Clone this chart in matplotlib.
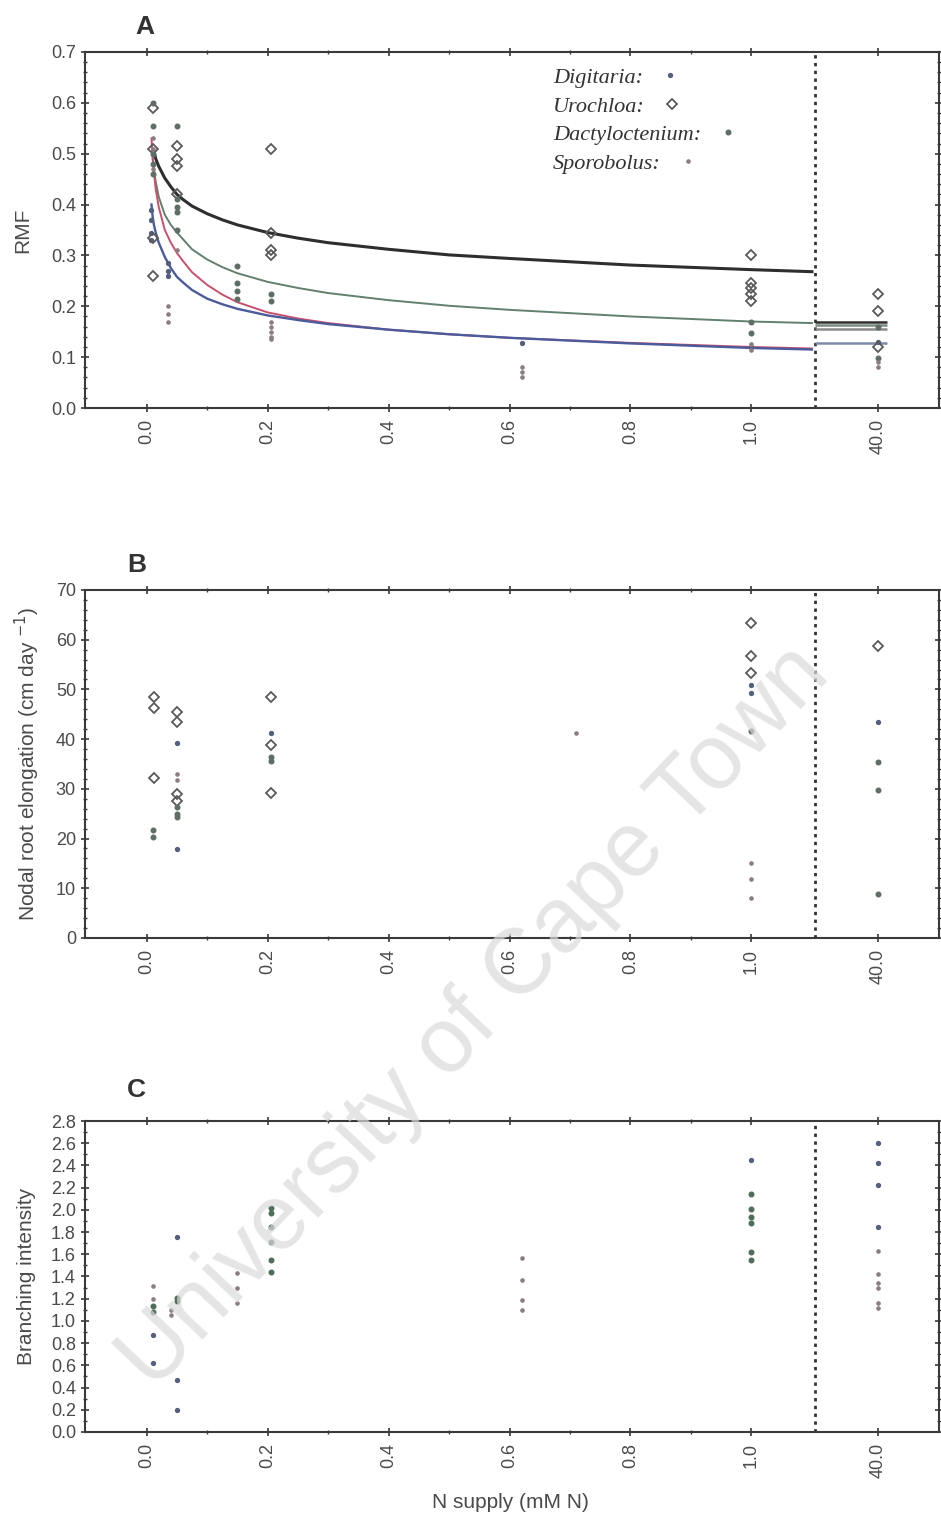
import numpy as np
import matplotlib
matplotlib.use("Agg")
import matplotlib.pyplot as plt
from matplotlib.ticker import FixedLocator, AutoMinorLocator

plt.rcParams['font.family'] = ['Liberation Sans', 'DejaVu Sans']

######################################
# DATA
######################################
# N supply (mM N); the 40 mM group sits after an axis break
xtick_vals = [0.0, 0.2, 0.4, 0.6, 0.8, 1.0, 40.0]
xtick_labels = ["0.0", "0.2", "0.4", "0.6", "0.8", "1.0", "40.0"]
xminor_vals = [0.1, 0.3, 0.5, 0.7, 0.9]
BREAK = 1.105

species = ["Digitaria", "Urochloa", "Dactyloctenium", "Sporobolus"]

# --- panel A: root mass fraction
a_uro_x = [0.01, 0.01, 0.01, 0.01, 0.05, 0.05, 0.05, 0.05, 0.206, 0.206, 0.206, 0.206,
           1.0, 1.0, 1.0, 1.0, 1.0, 40.0, 40.0, 40.0]
a_uro_y = [0.59, 0.51, 0.335, 0.26, 0.515, 0.49, 0.475, 0.42, 0.51, 0.345, 0.31, 0.30,
           0.30, 0.245, 0.235, 0.225, 0.21, 0.225, 0.19, 0.12]
a_dig_x = [0.008, 0.008, 0.008, 0.008, 0.035, 0.035, 0.035, 0.62, 1.0, 40.0]
a_dig_y = [0.39, 0.37, 0.345, 0.33, 0.285, 0.27, 0.26, 0.128, 0.12, 0.13]
a_dac_x = [0.01, 0.01, 0.01, 0.01, 0.01, 0.05, 0.05, 0.05, 0.05, 0.05,
           0.15, 0.15, 0.15, 0.15, 0.206, 0.206, 1.0, 1.0, 40.0, 40.0]
a_dac_y = [0.60, 0.555, 0.50, 0.48, 0.46, 0.555, 0.41, 0.395, 0.385, 0.35,
           0.28, 0.245, 0.23, 0.215, 0.225, 0.21, 0.17, 0.148, 0.16, 0.098]
a_spo_x = [0.01, 0.01, 0.01, 0.035, 0.035, 0.035, 0.05, 0.206, 0.206, 0.206, 0.206, 0.206,
           0.62, 0.62, 0.62, 1.0, 1.0, 40.0, 40.0]
a_spo_y = [0.53, 0.51, 0.47, 0.20, 0.185, 0.17, 0.31, 0.17, 0.16, 0.15, 0.14, 0.135,
           0.08, 0.07, 0.06, 0.114, 0.125, 0.08, 0.09]

# fitted curves
fit_uro_x = [0.012, 0.015, 0.02, 0.03, 0.04, 0.05, 0.06, 0.075, 0.1, 0.125, 0.15, 0.2, 0.25, 0.3,
             0.4, 0.5, 0.6, 0.8, 1.0, 1.1]
fit_uro_y = [0.505, 0.49, 0.475, 0.452, 0.435, 0.42, 0.41, 0.397, 0.382, 0.37, 0.36, 0.345, 0.334,
             0.325, 0.312, 0.301, 0.294, 0.281, 0.272, 0.268]
fit_dac_x = [0.01, 0.012, 0.015, 0.02, 0.03, 0.04, 0.05, 0.06, 0.075, 0.1, 0.125, 0.15, 0.2, 0.25,
             0.3, 0.4, 0.5, 0.6, 0.8, 1.0, 1.1]
fit_dac_y = [0.49, 0.47, 0.445, 0.415, 0.38, 0.36, 0.345, 0.332, 0.312, 0.292, 0.277, 0.265, 0.248,
             0.236, 0.226, 0.212, 0.201, 0.193, 0.18, 0.17, 0.167]
fit_spo_x = [0.008, 0.01, 0.012, 0.015, 0.02, 0.03, 0.04, 0.05, 0.06, 0.075, 0.1, 0.125, 0.15, 0.2,
             0.25, 0.3, 0.4, 0.5, 0.6, 0.8, 1.0, 1.1]
fit_spo_y = [0.53, 0.49, 0.463, 0.43, 0.395, 0.35, 0.325, 0.305, 0.289, 0.267, 0.242, 0.223, 0.208,
             0.188, 0.176, 0.167, 0.154, 0.145, 0.138, 0.128, 0.12, 0.117]
fit_dig_x = [0.008, 0.01, 0.012, 0.015, 0.02, 0.03, 0.04, 0.05, 0.06, 0.075, 0.1, 0.125, 0.15, 0.2,
             0.25, 0.3, 0.4, 0.5, 0.6, 0.8, 1.0, 1.1]
fit_dig_y = [0.40, 0.375, 0.36, 0.345, 0.325, 0.297, 0.275, 0.258, 0.247, 0.232, 0.215, 0.204, 0.195,
             0.182, 0.173, 0.165, 0.154, 0.145, 0.138, 0.127, 0.118, 0.115]
# fitted values at 40 mM (short horizontal segments after the break)
fit40_vals = [0.170, 0.163, 0.155, 0.128]
fit40_colors = ["#2e2e2e", "#7a8a80", "#8a8a8a", "#7d8aa8"]
fit40_span = [BREAK + 0.0003, 45.0]

# --- panel B: nodal root elongation
b_uro_x = [0.012, 0.012, 0.012, 0.05, 0.05, 0.05, 0.05, 0.206, 0.206, 0.206, 1.0, 1.0, 1.0, 40.0]
b_uro_y = [48.5, 46.3, 32.2, 45.4, 43.4, 29.0, 27.6, 48.5, 38.8, 29.2, 63.4, 56.7, 53.3, 58.7]
b_dig_x = [0.05, 0.05, 0.206, 1.0, 1.0, 40.0]
b_dig_y = [39.2, 17.9, 41.2, 50.9, 49.3, 43.5]
b_dac_x = [0.01, 0.01, 0.05, 0.05, 0.05, 0.206, 0.206, 1.0, 40.0, 40.0, 40.0]
b_dac_y = [21.7, 20.3, 26.3, 25.0, 24.3, 36.5, 35.5, 41.6, 35.4, 29.8, 8.9]
b_spo_x = [0.05, 0.05, 0.71, 1.0, 1.0, 1.0]
b_spo_y = [33.0, 31.8, 41.2, 15.1, 11.9, 8.0]

# --- panel C: branching intensity
c_dig_x = [0.01, 0.01, 0.05, 0.05, 0.05, 1.0, 40.0, 40.0, 40.0, 40.0]
c_dig_y = [0.62, 0.87, 1.76, 0.47, 0.20, 2.45, 2.60, 2.42, 2.22, 1.85]
c_dac_x = [0.01, 0.01, 0.05, 0.05, 0.206, 0.206, 0.206, 0.206, 0.206, 0.206,
           1.0, 1.0, 1.0, 1.0, 1.0, 1.0]
c_dac_y = [1.13, 1.08, 1.21, 1.18, 2.02, 1.97, 1.85, 1.71, 1.55, 1.44,
           2.14, 2.01, 1.94, 1.88, 1.62, 1.55]
c_spo_x = [0.01, 0.01, 0.04, 0.04, 0.15, 0.15, 0.15, 0.62, 0.62, 0.62, 0.62,
           40.0, 40.0, 40.0, 40.0, 40.0, 40.0]
c_spo_y = [1.31, 1.20, 1.10, 1.05, 1.43, 1.30, 1.16, 1.57, 1.37, 1.19, 1.10,
           1.63, 1.42, 1.34, 1.30, 1.16, 1.12]

######################################
# STYLE
######################################
COL_AX = "#3a3a3a"
COL_TXT = "#4a4a4a"
sty_dig = dict(marker="o", ms=2.8, ls="none", color="#55607e")
sty_uro = dict(marker="D", ms=5.0, ls="none", mfc="none", mec="#5a5a5a", mew=1.3)
sty_dac = dict(marker="o", ms=3.3, ls="none", color="#5e6e64")
sty_spo = dict(marker="o", ms=2.3, ls="none", color="#8a7c80")

# broken x axis: linear up to BREAK, compressed beyond
K = (1.21 - BREAK) / (40.0 - BREAK)


def fwd(x):
    x = np.asarray(x, dtype=float)
    return np.where(x <= BREAK, x, BREAK + (x - BREAK) * K)


def inv(p):
    p = np.asarray(p, dtype=float)
    return np.where(p <= BREAK, p, BREAK + (p - BREAK) / K)


def setup_axes(ax, ymax, ystep, yfmt, nminor):
    ax.set_xscale("function", functions=(fwd, inv))
    ax.set_xlim(-0.102, inv(1.31))
    ax.set_ylim(0, ymax)
    ax.xaxis.set_major_locator(FixedLocator(xtick_vals))
    ax.set_xticklabels(xtick_labels, rotation=90)
    ax.xaxis.set_minor_locator(FixedLocator(xminor_vals))
    yt = np.arange(0, ymax + ystep / 2, ystep)
    ax.set_yticks(yt)
    ax.set_yticklabels([yfmt.format(v) for v in yt])
    ax.yaxis.set_minor_locator(AutoMinorLocator(nminor))
    ax.tick_params(which="both", direction="inout", top=True, right=True,
                   colors=COL_AX, labelcolor=COL_TXT, labelsize=13)
    ax.tick_params(which="major", length=6, width=1.2)
    ax.tick_params(which="minor", length=3, width=1.0)
    ax.tick_params(axis="x", pad=5)
    for sp in ax.spines.values():
        sp.set_color(COL_AX)
        sp.set_linewidth(1.5)
    ax.axvline(BREAK, color="#333333", ls=(0, (1.2, 1.6)), lw=2.0, zorder=1)


######################################
# FIGURE
######################################
fig = plt.figure(figsize=(9.41, 15.19), dpi=100)
axA = fig.add_axes([0.0903, 0.7314, 0.9075, 0.2344])
axB = fig.add_axes([0.0903, 0.3825, 0.9075, 0.2291])
axC = fig.add_axes([0.0903, 0.0573, 0.9075, 0.2047])

# panel A
setup_axes(axA, 0.7, 0.1, "{:.1f}", 5)
axA.plot(fit_uro_x, fit_uro_y, color="#2e2e2e", lw=2.2)
axA.plot(fit_dac_x, fit_dac_y, color="#62806e", lw=1.4)
axA.plot(fit_spo_x, fit_spo_y, color="#c8506c", lw=1.4)
axA.plot(fit_dig_x, fit_dig_y, color="#4b5b9c", lw=1.7)
axA.hlines(fit40_vals, fit40_span[0], fit40_span[1], colors=fit40_colors, lw=1.8)
axA.plot(a_dig_x, a_dig_y, label="Digitaria:", **sty_dig)
axA.plot(a_uro_x, a_uro_y, label="Urochloa:", **sty_uro)
axA.plot(a_dac_x, a_dac_y, label="Dactyloctenium:", **sty_dac)
axA.plot(a_spo_x, a_spo_y, label="Sporobolus:", **sty_spo)
axA.set_ylabel("RMF", fontsize=15, color=COL_TXT)
axA.yaxis.set_label_coords(-0.062, 0.5)
leg = axA.legend(loc="upper left", bbox_to_anchor=(0.53, 1.0), frameon=False,
                 markerfirst=False, labelspacing=0.36, handlelength=0.8,
                 handletextpad=0.8, borderaxespad=0.3,
                 prop=dict(family="Liberation Serif", style="italic", size=16))
for t in leg.get_texts():
    t.set_color("#333333")
# left-align the rows so each marker follows its own label
for col in leg._legend_handle_box.get_children():
    col.align = "left"

# panel B
setup_axes(axB, 70, 10, "{:.0f}", 5)
axB.plot(b_dig_x, b_dig_y, **sty_dig)
axB.plot(b_uro_x, b_uro_y, **sty_uro)
axB.plot(b_dac_x, b_dac_y, **sty_dac)
axB.plot(b_spo_x, b_spo_y, **sty_spo)
axB.set_ylabel("Nodal root elongation (cm day $^{-1}$)", fontsize=15, color=COL_TXT)
axB.yaxis.set_label_coords(-0.050, 0.5)

# panel C
setup_axes(axC, 2.8, 0.2, "{:.1f}", 2)
axC.plot(c_dig_x, c_dig_y, **sty_dig)
axC.plot(c_dac_x, c_dac_y, **dict(sty_dac, color="#4f6e5a"))
axC.plot(c_spo_x, c_spo_y, **sty_spo)
axC.set_ylabel("Branching intensity", fontsize=15, color=COL_TXT)
axC.yaxis.set_label_coords(-0.057, 0.5)

fig.text(510 / 941, 1 - 1503 / 1519, "N supply (mM N)", ha="center", va="center",
         fontsize=15, color=COL_TXT)

# panel letters
fig.text(145 / 941, 1 - 27 / 1519, "A", fontsize=19, fontweight="bold",
         ha="center", va="center", color="#333333")
fig.text(137 / 941, 1 - 565 / 1519, "B", fontsize=19, fontweight="bold",
         ha="center", va="center", color="#333333")
fig.text(136 / 941, 1 - 1090 / 1519, "C", fontsize=19, fontweight="bold",
         ha="center", va="center", color="#333333")

# watermark
fig.text(475 / 941, 1 - 1018 / 1519, "University of Cape Town", fontsize=66,
         rotation=46.5, rotation_mode="anchor", ha="center", va="center",
         color="#dadada", alpha=0.7, zorder=10)

fig.savefig("out.png", dpi=100)
